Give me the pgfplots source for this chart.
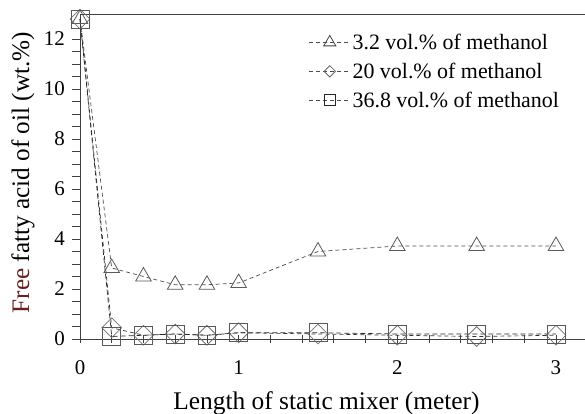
\documentclass[border=0pt]{standalone}
\usepackage{pgfplots}
\pgfplotsset{compat=1.18}
\usepackage{fontspec}
\setmainfont{Liberation Serif}
\begin{document}
\begin{tikzpicture}
\begin{axis}[
  scale only axis, width=505bp, height=325bp,
  xmin=0, xmax=3.183, ymin=0, ymax=13,
  clip=false,
  axis x line*=bottom, axis y line*=left,
  axis line style={black!75, line width=0.9bp},
  xtick={0,1,2,3}, ytick={0,2,4,6,8,10,12},
  minor x tick num=4, minor y tick num=3,
  xtick align=center, ytick align=outside,
  major tick length=8bp, minor tick length=8bp,
  tick style={black!75, line width=0.8bp},
  /pgf/number format/assume math mode=true,
  tick label style={font=\fontsize{21}{24}\selectfont, inner sep=0pt},
  xticklabel style={anchor=north, yshift=-17bp},
  yticklabel style={anchor=east, xshift=-7bp},
  every axis x label/.style={at={(rel axis cs:0.488,0)}, yshift=-64bp, anchor=center, font=\fontsize{25.5}{28}\selectfont},
  every axis y label/.style={at={(rel axis cs:0,0.512)}, xshift=-57bp, rotate=90, anchor=center, font=\fontsize{25.3}{28}\selectfont},
  xlabel={Length of static mixer (meter)},
  ylabel={\textcolor[rgb]{0.42,0.12,0.12}{Free} fatty acid of oil (wt.\%)},
  legend style={at={(0.446,0.95)}, anchor=north west, draw=none, fill=none,
    font=\fontsize{22}{25}\selectfont, row sep=9bp,
    nodes={inner sep=1.5bp}},
  legend cell align=left,
  legend image code/.code={\draw[mark repeat=2,mark phase=2,#1] plot coordinates {(0bp,0bp) (21bp,0bp) (42bp,0bp)};},
  ]
\addlegendimage{black!70, line width=0.7bp, dash pattern=on 4bp off 3bp, mark=triangle, mark size=7pt, mark options={solid, draw=black!75, line width=0.8bp}}
\addlegendentry{3.2 vol.\% of methanol}
\addlegendimage{black!70, line width=0.7bp, dash pattern=on 4bp off 3bp, mark=square, mark size=4pt, mark options={solid, rotate=45, draw=black!60, line width=0.8bp}}
\addlegendentry{20 vol.\% of methanol}
\addlegendimage{black!70, line width=0.7bp, dash pattern=on 4bp off 3bp, mark=square, mark size=5.5pt, mark options={solid, draw=black!85, line width=0.8bp}}
\addlegendentry{36.8 vol.\% of methanol}

\addplot[forget plot, black!70, line width=0.7bp, dash pattern=on 4bp off 3bp, mark=triangle, mark size=9pt, mark options={solid, draw=black!65, line width=0.8bp}]
coordinates {(0,12.8) (0.2,2.84) (0.4,2.5) (0.6,2.17) (0.8,2.17) (1,2.24) (1.5,3.5) (2,3.72) (2.5,3.72) (3,3.72)};
\addplot[forget plot, black!80, line width=0.7bp, dash pattern=on 4bp off 3bp, mark=square, mark size=7pt, mark options={solid, rotate=45, draw=black!55, line width=0.8bp}]
coordinates {(0,12.8) (0.2,0.45) (0.4,0.15) (0.6,0.2) (0.8,0.15) (1,0.25) (1.5,0.2) (2,0.15) (2.5,0.1) (3,0.15)};
\addplot[forget plot, black!85, line width=0.7bp, dash pattern=on 5bp off 3bp, mark=square, mark size=9pt, mark options={solid, draw=black!65, line width=0.8bp}]
coordinates {(0,12.8) (0.2,0.1) (0.4,0.15) (0.6,0.2) (0.8,0.15) (1,0.25) (1.5,0.25) (2,0.2) (2.5,0.2) (3,0.2)};
\draw[black!75, line width=0.9bp] (rel axis cs:0,1) -- (rel axis cs:1,1);
\coordinate (bl) at (rel axis cs:0,0);
\coordinate (tr) at (rel axis cs:1,1);
\end{axis}
\pgfresetboundingbox
\path ([shift={(-80bp,-75bp)}]bl) rectangle ([shift={(0bp,14bp)}]tr);
\end{tikzpicture}
\end{document}
